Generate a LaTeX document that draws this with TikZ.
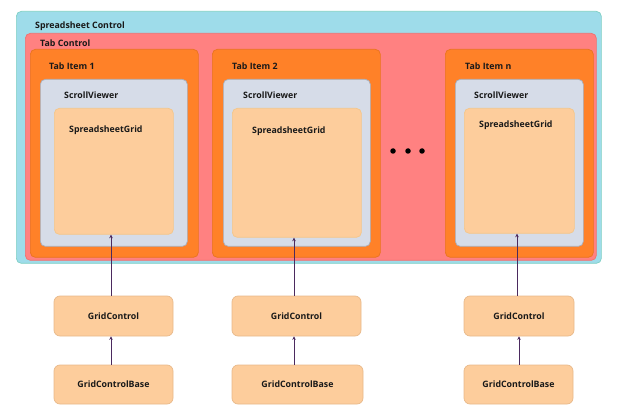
\documentclass[tikz,border=0pt]{standalone}
\usepackage{fontspec}
\setmainfont{Open Sans}
\usetikzlibrary{arrows.meta}
\definecolor{scfill}{HTML}{9EDCEA}
\definecolor{scdraw}{HTML}{7FD0C4}
\definecolor{tcfill}{HTML}{FF8181}
\definecolor{tcdraw}{HTML}{F07070}
\definecolor{tifill}{HTML}{FF8128}
\definecolor{tidraw}{HTML}{E8741F}
\definecolor{svfill}{HTML}{D6DCE8}
\definecolor{svdraw}{HTML}{A8AEBB}
\definecolor{sgfill}{HTML}{FDCD9C}
\definecolor{sgdraw}{HTML}{F4C68A}
\definecolor{gcdraw}{HTML}{E8B98A}
\definecolor{arrowc}{HTML}{4B2A5E}
\tikzset{
  box/.style={rounded corners=5pt, anchor=north west, inner sep=0pt, line width=0.7pt},
  sc/.style={box, fill=scfill, draw=scdraw},
  tc/.style={box, fill=tcfill, draw=tcdraw},
  ti/.style={box, fill=tifill, draw=tidraw},
  sv/.style={box, fill=svfill, draw=svdraw},
  sg/.style={box, fill=sgfill, draw=sgdraw},
  gc/.style={rounded corners=6pt, fill=sgfill, draw=gcdraw, line width=0.7pt, inner sep=0pt,
    font=\fontsize{8.8}{9}\selectfont\bfseries, text=black!90},
  lbl/.style={anchor=west, inner sep=0pt, font=\fontsize{8.8}{9}\selectfont\bfseries, text=black!90},
  dot/.style={circle, fill=black, inner sep=0pt, minimum size=5.5pt},
  conn/.style={draw=arrowc, line width=0.8pt, -{Stealth[length=3.5pt,width=3.5pt]}}
}
\begin{document}
\begin{tikzpicture}[x=1pt,y=-1pt]
\useasboundingbox (0,0) rectangle (624,414);
% outer containers
\node[sc, minimum width=585pt, minimum height=252pt] (sc) at (16,11) {};
\node[lbl] (sclbl) at (35,26) {Spreadsheet Control};
\node[tc, minimum width=571pt, minimum height=227pt] (tc) at (25,33) {};
\node[lbl] (tclbl) at (40,43) {Tab Control};
% tab items
\node[ti, minimum width=168pt, minimum height=208pt] (ti1) at (30,49) {};
\node[ti, minimum width=168pt, minimum height=208pt] (ti2) at (212,49) {};
\node[ti, minimum width=148pt, minimum height=208pt] (tin) at (445,49) {};
\node[lbl] (ti1lbl) at (49,66) {Tab Item 1};
\node[lbl] (ti2lbl) at (232,66) {Tab Item 2};
\node[lbl] (tinlbl) at (465,66) {Tab Item n};
% scroll viewers
\node[sv, minimum width=147pt, minimum height=167pt] (sv1) at (40,79) {};
\node[sv, minimum width=147pt, minimum height=167pt] (sv2) at (223,79) {};
\node[sv, minimum width=128pt, minimum height=167pt] (svn) at (455,79) {};
\node[lbl] (sv1lbl) at (64,95) {ScrollViewer};
\node[lbl] (sv2lbl) at (243,95) {ScrollViewer};
\node[lbl] (svnlbl) at (474,95) {ScrollViewer};
% spreadsheet grids
\node[sg, minimum width=119pt, minimum height=126pt] (sg1) at (54,108) {};
\node[sg, minimum width=129pt, minimum height=129pt] (sg2) at (232,108) {};
\node[sg, minimum width=110pt, minimum height=125pt] (sgn) at (464,108) {};
\node[lbl] (sg1lbl) at (69,130) {SpreadsheetGrid};
\node[lbl] (sg2lbl) at (252,131) {SpreadsheetGrid};
\node[lbl] (sgnlbl) at (479,125) {SpreadsheetGrid};
% dots
\node[dot] (d1) at (393,151) {};
\node[dot] (d2) at (408,151) {};
\node[dot] (d3) at (422,151) {};
% grid controls
\node[gc, minimum width=119pt, minimum height=40pt] (gc1) at (113.5,316) {GridControl};
\node[gc, minimum width=129pt, minimum height=40pt] (gc2) at (296.5,316) {GridControl};
\node[gc, minimum width=110pt, minimum height=40pt] (gcn) at (519,316) {GridControl};
\node[gc, minimum width=119pt, minimum height=39pt] (gb1) at (113.5,384.5) {GridControlBase};
\node[gc, minimum width=131pt, minimum height=39pt] (gb2) at (297.5,384.5) {GridControlBase};
\node[gc, minimum width=109pt, minimum height=39pt] (gbn) at (518.5,384.5) {GridControlBase};
% connectors
\draw[conn] (gc1.north -| 111,0) -- (sg1.south -| 111,0);
\draw[conn] (gb1.north -| 111,0) -- (gc1.south -| 111,0);
\draw[conn] (gc2.north -| 294,0) -- (sg2.south -| 294,0);
\draw[conn] (gb2.north -| 294,0) -- (gc2.south -| 294,0);
\draw[conn] (gcn.north -| 517,0) -- (sgn.south -| 517,0);
\draw[conn] (gbn.north -| 519,0) -- (gcn.south -| 519,0);
\end{tikzpicture}
\end{document}
